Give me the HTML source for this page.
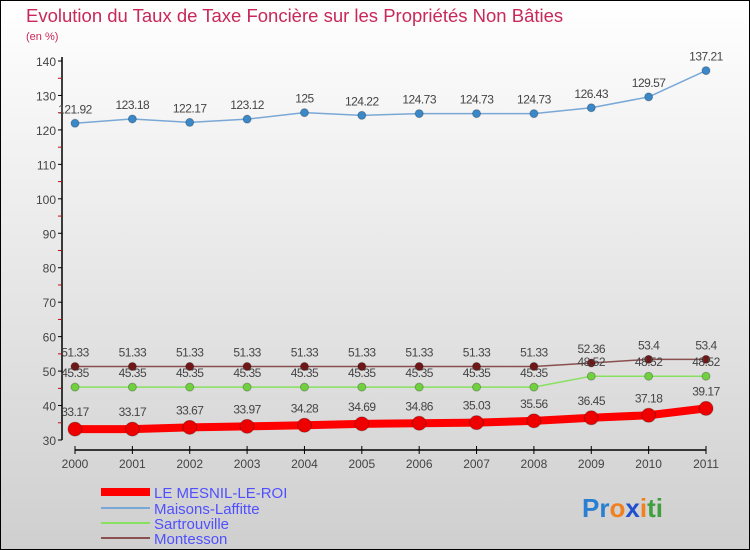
<!DOCTYPE html>
<html><head><meta charset="utf-8"><style>
html,body{margin:0;padding:0}
body{width:750px;height:550px;overflow:hidden}
svg{display:block;font-family:"Liberation Sans",sans-serif}
</style></head><body>
<svg id="c" width="750" height="550">
<defs><linearGradient id="bg" x1="0" y1="0" x2="0" y2="1"><stop offset="0" stop-color="#ffffff"/><stop offset="1" stop-color="#cfcfcf"/></linearGradient></defs>
<rect x="0.5" y="0.5" width="749" height="549" fill="url(#bg)" stroke="#000"/>
<text x="26" y="22" font-size="18.5" fill="#c8285a">Evolution du Taux de Taxe Foncière sur les Propriétés Non Bâties</text>
<text x="26" y="40" font-size="11" fill="#c8285a">(en %)</text>
<g id="axes"></g><g id="series"></g>
<g>
<line x1="101" y1="492" x2="150" y2="492" stroke="#f00" stroke-width="8"/>
<text x="154" y="498" font-size="15" fill="#5050ff">LE MESNIL-LE-ROI</text>
<line x1="101" y1="508" x2="150" y2="508" stroke="#7aa8d6" stroke-width="2"/>
<text x="154" y="514" font-size="15" fill="#5050ff">Maisons-Laffitte</text>
<line x1="101" y1="523" x2="150" y2="523" stroke="#88e060" stroke-width="2"/>
<text x="154" y="529" font-size="15" fill="#5050ff">Sartrouville</text>
<line x1="101" y1="538" x2="150" y2="538" stroke="#8a5050" stroke-width="2"/>
<text x="154" y="544" font-size="15" fill="#5050ff">Montesson</text>
</g>
<text x="582" y="517" font-size="26" font-weight="bold"><tspan fill="#2a7fd0">Pr</tspan><tspan fill="#f08020">o</tspan><tspan fill="#2050d0">x</tspan><tspan fill="#f08020">i</tspan><tspan fill="#40a040">ti</tspan></text>
</svg>
<script>
const years=["2000","2001","2002","2003","2004","2005","2006","2007","2008","2009","2010","2011"];
const yTicks=[30,40,50,60,70,80,90,100,110,120,130,140];
const mesnil=[33.17,33.17,33.67,33.97,34.28,34.69,34.86,35.03,35.56,36.45,37.18,39.17];
const maisons=[121.92,123.18,122.17,123.12,125,124.22,124.73,124.73,124.73,126.43,129.57,137.21];
const sartrouville=[45.35,45.35,45.35,45.35,45.35,45.35,45.35,45.35,45.35,48.52,48.52,48.52];
const montesson=[51.33,51.33,51.33,51.33,51.33,51.33,51.33,51.33,51.33,52.36,53.4,53.4];
const mesnilLabels=["33.17","33.17","33.67","33.97","34.28","34.69","34.86","35.03","35.56","36.45","37.18","39.17"];
const maisonsLabels=["121.92","123.18","122.17","123.12","125","124.22","124.73","124.73","124.73","126.43","129.57","137.21"];
const sartLabels=["45.35","45.35","45.35","45.35","45.35","45.35","45.35","45.35","45.35","48.52","48.52","48.52"];
const montLabels=["51.33","51.33","51.33","51.33","51.33","51.33","51.33","51.33","51.33","52.36","53.4","53.4"];
const NS="http://www.w3.org/2000/svg";
const X=i=>75+i*(706-75)/11;
const Y=v=>440-(v-30)*(440-61)/110;
function mk(t,a,p){const e=document.createElementNS(NS,t);for(const k in a)e.setAttribute(k,a[k]);p.appendChild(e);return e;}
const ax=document.getElementById('axes');
let l=mk('line',{x1:62,y1:Y(140)-4,x2:62,y2:Y(30),stroke:'#000','stroke-width':1.5},ax);


yTicks.forEach((v,k)=>{const y=Y(v);
 mk('line',{x1:58,y1:y,x2:62,y2:y,stroke:'#000'},ax);
 if(k<yTicks.length-1) mk('line',{x1:58,y1:y-17.2,x2:61,y2:y-17.2,stroke:'#d00'},ax);
 const t=mk('text',{x:56,y:y+5,'text-anchor':'end','font-size':12,fill:'#444'},ax);t.textContent=v;
 
 });
l=mk('line',{x1:75,y1:450,x2:706,y2:450,stroke:'#000','stroke-width':1.5},ax);


years.forEach((yr,i)=>{const x=X(i);
 mk('line',{x1:x,y1:446,x2:x,y2:454,stroke:'#000'},ax);
 const t=mk('text',{x:x,y:468,'text-anchor':'middle','font-size':12,fill:'#444'},ax);t.textContent=yr;
 
 });
const sg=document.getElementById('series');
function series(name,vals,labs,col,dot,w,r){
 const g=mk('g',{},sg);
 
 
 mk('polyline',{points:vals.map((v,i)=>X(i)+','+Y(v)).join(' '),fill:'none',stroke:col,'stroke-width':w,'stroke-linejoin':'round'},g);
 vals.forEach((v,i)=>{const c=mk('circle',{cx:X(i),cy:Y(v),r:r,fill:dot,stroke:'rgba(0,0,0,0.25)'},g);
  
  
  const t=mk('text',{x:X(i),y:Y(v)-r-6,'text-anchor':'middle','font-size':12,fill:'#444','letter-spacing':'-0.5'},g);t.textContent=labs[i];
  
  });
}
series('series-maisons-laffitte',maisons,maisonsLabels,'#7aa8d6','#3a88c8',1.5,4);
series('series-montesson',montesson,montLabels,'#8a5050','#701818',1.5,4);
series('series-sartrouville',sartrouville,sartLabels,'#88e060','#70d040',1.5,4);
series('series-le-mesnil-le-roi',mesnil,mesnilLabels,'#f00','#e00',8,7);
</script>
</body></html>
